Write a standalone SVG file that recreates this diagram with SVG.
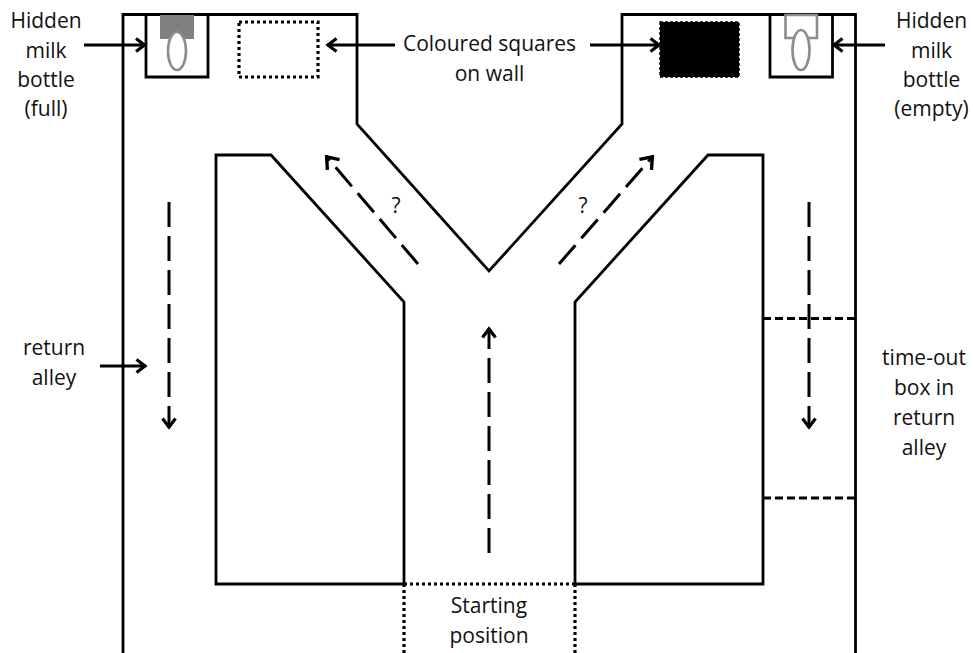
<svg xmlns="http://www.w3.org/2000/svg" width="973" height="653" viewBox="0 0 973 653">
<defs>
<marker id="a" viewBox="0 0 32 32" refX="22" refY="16" markerUnits="userSpaceOnUse" markerWidth="32" markerHeight="32" orient="auto"><path d="M12.500 9.500L21 16L12.500 22.500" fill="none" stroke="#000" stroke-width="3.200"/></marker>
<marker id="b" viewBox="0 0 32 32" refX="22" refY="16" markerUnits="userSpaceOnUse" markerWidth="32" markerHeight="32" orient="auto"><path d="M10.500 8L21 16L10.500 24" fill="none" stroke="#000" stroke-width="3.400"/></marker>
</defs>
<style>
.w{fill:none;stroke:#000;stroke-width:2.800}
.ar{fill:none;stroke:#000;stroke-width:2.800;marker-end:url(#a)}
.da{stroke-width:3;stroke-dasharray:25 9}
.dg{marker-end:url(#b)}
.dot{fill:none;stroke:#000;stroke-width:3.200;stroke-dasharray:3 3}
.dash{fill:none;stroke:#000;stroke-width:2.800;stroke-dasharray:8 4}
.g{fill:#fff;stroke:#8c8c8c;stroke-width:2.600}
text{font-family:"Open Sans","Noto Sans",sans-serif;font-size:21px;fill:#111;text-anchor:middle}
</style>
<rect width="973" height="653" fill="#fff"/>
<g id="maze">
<path class="w" d="M123 653V14.500H357V124L489 271L622 124V14.500H855.500V653"/>
<path class="w" d="M404 584H216V155H271L404 302V584"/>
<path class="w" d="M575 584H763V155H708L575 302V584"/>
</g>
<g id="start-box">
<path class="dot" d="M404 584H575M404 584V653M575 584V653"/>
<text x="489" y="613">Starting</text><text x="489" y="643">position</text>
</g>
<g id="bottle-full">
<path class="w" d="M146 15V77H208V15"/>
<rect x="160" y="15" width="34" height="24" fill="#808080"/>
<ellipse cx="177" cy="51" rx="9" ry="19" class="g"/>
</g>
<g id="bottle-empty">
<path class="w" d="M770 15V77H832.500V15"/>
<path class="g" d="M785.500 15V38H817V15Z"/>
<ellipse cx="801" cy="50" rx="8.500" ry="20" class="g"/>
</g>
<g id="square-white"><rect x="239" y="22" width="79" height="55" class="dot"/></g>
<g id="square-black"><rect x="660" y="22" width="79" height="55" fill="#000" stroke="#000" stroke-width="1.500" stroke-dasharray="3 2"/></g>
<g id="timeout-box"><path class="dash" d="M763 318.500H855M763 498H855"/></g>
<g id="connectors">
<path class="ar" d="M84 45H145.500"/>
<path class="ar" d="M395 45H327"/>
<path class="ar" d="M590 45H660"/>
<path class="ar" d="M885 45H833"/>
<path class="ar" d="M100 366H146"/>
<path class="ar da" d="M169 202V428"/>
<path class="ar da" d="M809 202V428"/>
<path class="ar da" d="M489 553V328"/>
<path class="ar da dg" d="M418 264L326 156"/>
<path class="ar da dg" d="M559 264L653 156"/>
</g>
<g id="labels">
<text x="46" y="28">Hidden</text><text x="46" y="58">milk</text><text x="46" y="87">bottle</text><text x="46" y="116">(full)</text>
<text x="931.500" y="28">Hidden</text><text x="931.500" y="58">milk</text><text x="931.500" y="87">bottle</text><text x="931.500" y="116">(empty)</text>
<text x="489.500" y="51">Coloured squares</text><text x="489.500" y="81">on wall</text>
<text x="54" y="355">return</text><text x="54" y="385">alley</text>
<text x="924" y="365">time-out</text><text x="924" y="395">box in</text><text x="924" y="425">return</text><text x="924" y="455">alley</text>
<text x="396" y="213">?</text><text x="583" y="213">?</text>
</g>
</svg>
